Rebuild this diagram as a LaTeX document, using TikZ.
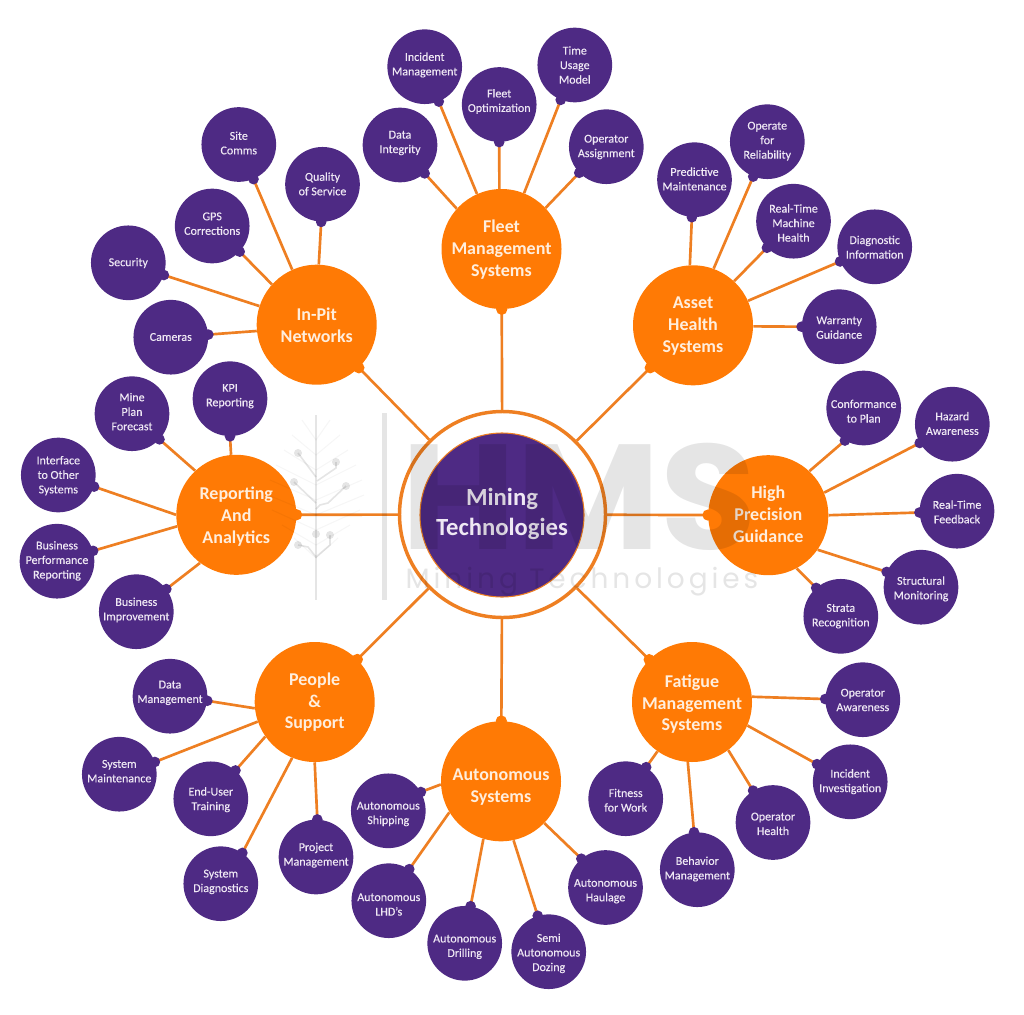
\documentclass[tikz,border=0pt]{standalone}
\usepackage{fontspec}
\setmainfont{Carlito}
\newfontfamily\leaffont[FakeBold=0.25]{Carlito}
\newfontfamily\markfont{Poppins}
\newfontfamily\markwide[LetterSpace=14]{Poppins}
\usetikzlibrary{positioning, calc}
\definecolor{minepurple}{HTML}{4E2A84}
\definecolor{mineorange}{HTML}{FF7A05}
\definecolor{minelink}{HTML}{EE7F22}
\definecolor{leafink}{HTML}{EFE8F4}
\definecolor{topicink}{HTML}{FFEEDD}
\tikzset{
  hubbox/.style={circle, fill=minepurple, draw=minelink, line width=0.8pt, inner sep=0pt,
    minimum size=123pt},
  hubtext/.style={align=center, inner sep=0pt, text=leafink,
    font=\fontsize{18.5}{22}\selectfont\bfseries},
  ringbox/.style={circle, draw=minelink, line width=2.6pt, inner sep=0pt, minimum size=154.5pt},
  topicbox/.style={circle, fill=mineorange, inner sep=0pt, minimum size=90pt},
  topictext/.style={align=center, inner sep=0pt, yshift=-0.9pt, text=topicink,
    font=\fontsize{13.5}{16.4}\selectfont\bfseries},
  leafbox/.style={circle, fill=minepurple, inner sep=0pt, minimum size=56pt},
  leaftext/.style={align=center, inner sep=0pt, yshift=-0.5pt, text=leafink,
    font=\leaffont\fontsize{9}{10.9}\selectfont},
  link/.style={draw=minelink, line width=2pt},
  leafdot/.style={circle, fill=minepurple, inner sep=0pt, minimum size=8pt},
  topicdot/.style={circle, fill=mineorange, inner sep=0pt, minimum size=8.5pt},
}
\newcommand{\topicnode}[5]{%
  \node[topicbox] (#1) at (#2,#3) {};
  \node[topictext] (#1text) at (#2,#4) {#5};
  \draw[link] (ring) -- (#1) node[topicdot, pos=1] (#1dot) {};}
\newcommand{\leafnode}[5]{%
  \node[leafbox] (#1) at (#2,#3) {};
  \node[leaftext] (#1text) at (#2,#4) {#5};}
\newcommand{\leaflink}[4]{%
  \draw[link] (#1.#2) -- (#3.#4) node[leafdot, pos=1] (#3dot) {};}

\begin{document}
\begin{tikzpicture}[x=0.75pt, y=-0.75pt]
  \useasboundingbox (0,0) rectangle (1024,1014);
  \node[ringbox] (ring) at (502.5,514.5) {};
  \node[hubbox] (hub) at (502,515) {};
  \node[hubtext] (hubtext) at (502,514) {Mining\\Technologies};

  \topicnode{fleet}{501.5}{249}{248.3}{Fleet\\Management\\Systems}
  \topicnode{asset}{693}{325.3}{325}{Asset\\Health\\Systems}
  \topicnode{guidance}{768.3}{515.2}{513}{High\\Precision\\Guidance}
  \topicnode{fatigue}{692}{702}{703}{Fatigue\\Management\\Systems}
  \topicnode{auto}{501}{781.3}{785.8}{Autonomous\\Systems}
  \topicnode{people}{314.7}{702}{701}{People\\\&\\Support}
  \topicnode{report}{236.3}{514.8}{515.5}{Reporting\\And\\Analytics}
  \topicnode{inpit}{316.7}{324.7}{324.2}{In-Pit\\Networks}

  \leafnode{integrity}{400}{145}{142.3}{Data\\Integrity}
  \leafnode{incident}{424.7}{66.7}{64.3}{Incident\\Management}
  \leafnode{optim}{499.2}{104.5}{100.8}{Fleet\\Optimization}
  \leafnode{usage}{574.8}{65}{64.3}{Time\\Usage\\Model}
  \leafnode{assign}{606.3}{146.7}{146.3}{Operator\\Assignment}
  \leaflink{fleet}{138}{integrity}{311}
  \leaflink{fleet}{114}{incident}{292}
  \leaflink{fleet}{92}{optim}{270}
  \leaflink{fleet}{68}{usage}{248}
  \leaflink{fleet}{43}{assign}{224}

  \leafnode{predict}{694.5}{179.7}{178.3}{Predictive\\Maintenance}
  \leafnode{reliab}{767.3}{141.7}{140.5}{Operate\\for\\Reliability}
  \leafnode{machine}{793.5}{221.2}{222.3}{Real-Time\\Machine\\Health}
  \leafnode{diagnos}{874.7}{246.8}{246.5}{Diagnostic\\Information}
  \leafnode{warranty}{839.2}{326.7}{327}{Warranty\\Guidance}
  \leaflink{asset}{93}{predict}{266}
  \leaflink{asset}{70}{reliab}{248}
  \leaflink{asset}{47}{machine}{225}
  \leaflink{asset}{24}{diagnos}{203}
  \leaflink{asset}{359}{warranty}{180}

  \leafnode{conform}{863.7}{408}{410.5}{Conformance\\to Plan}
  \leafnode{hazard}{952.3}{424.2}{422.8}{Hazard\\Awareness}
  \leafnode{feedback}{957}{511.2}{511.2}{Real-Time\\Feedback}
  \leafnode{struct}{921}{587.2}{588.2}{Structural\\Monitoring}
  \leafnode{strata}{840.8}{616.3}{615.5}{Strata\\Recognition}
  \leaflink{guidance}{47}{conform}{240}
  \leaflink{guidance}{22}{hazard}{210}
  \leaflink{guidance}{0}{feedback}{182}
  \leaflink{guidance}{325}{struct}{156}
  \leaflink{guidance}{298}{strata}{131}

  \leafnode{aware}{862.8}{699.7}{699.3}{Operator\\Awareness}
  \leafnode{investig}{850.2}{781.8}{781}{Incident\\Investigation}
  \leafnode{health}{773}{822.5}{823.2}{Operator\\Health}
  \leafnode{behave}{697.3}{869.7}{868.3}{Behavior\\Management}
  \leafnode{fitness}{625.7}{798.7}{799.5}{Fitness\\for Work}
  \leaflink{fatigue}{5}{aware}{179}
  \leaflink{fatigue}{337}{investig}{152}
  \leaflink{fatigue}{307}{health}{122}
  \leaflink{fatigue}{266}{behave}{95}
  \leaflink{fatigue}{235}{fitness}{57}

  \leafnode{shipping}{388.3}{810.8}{813.3}{Autonomous\\Shipping}
  \leafnode{lhd}{388.8}{900.7}{903.8}{Autonomous\\LHD’s}
  \leafnode{drilling}{464.7}{943.3}{946.2}{Autonomous\\Drilling}
  \leafnode{dozing}{548.7}{951.7}{952.7}{Semi\\Autonomous\\Dozing}
  \leafnode{haulage}{605.5}{887.5}{890.5}{Autonomous\\Haulage}
  \leaflink{auto}{183}{shipping}{30}
  \leaflink{auto}{211}{lhd}{57}
  \leaflink{auto}{253}{drilling}{81}
  \leaflink{auto}{282}{dozing}{107}
  \leaflink{auto}{316}{haulage}{130}

  \leafnode{datamgmt}{170}{696.2}{692.2}{Data\\Management}
  \leafnode{sysmaint}{119.3}{774.2}{770.5}{System\\Maintenance}
  \leafnode{training}{210.8}{798.8}{799}{End-User\\Training}
  \leafnode{sysdiag}{220.8}{883.7}{881.2}{System\\Diagnostics}
  \leafnode{project}{316}{857}{854.5}{Project\\Management}
  \leaflink{people}{186}{datamgmt}{353}
  \leaflink{people}{199}{sysmaint}{19}
  \leaflink{people}{215}{training}{49}
  \leaflink{people}{248}{sysdiag}{55}
  \leaflink{people}{270}{project}{88}

  \leafnode{kpi}{230}{398.7}{395.5}{KPI\\Reporting}
  \leafnode{forecast}{132}{413.7}{411}{Mine\\Plan\\Forecast}
  \leafnode{interface}{58.3}{475}{475}{Interface\\to Other\\Systems}
  \leafnode{perform}{57}{561.2}{560.2}{Business\\Performance\\Reporting}
  \leafnode{improve}{136.3}{611.7}{609.3}{Business\\Improvement}
  \leaflink{report}{95}{kpi}{270}
  \leaflink{report}{133}{forecast}{317}
  \leaflink{report}{180}{interface}{342}
  \leaflink{report}{191}{perform}{16}
  \leaflink{report}{233}{improve}{37}

  \leafnode{comms}{238.8}{144.5}{142.3}{Site\\Comms}
  \leafnode{quality}{322.5}{184.3}{183.2}{Quality\\of Service}
  \leafnode{gps}{212.2}{226}{223}{GPS\\Corrections}
  \leafnode{security}{128.3}{262.8}{262.3}{Security}
  \leafnode{cameras}{170.8}{337.2}{336.3}{Cameras}
  \leaflink{inpit}{114}{comms}{293}
  \leaflink{inpit}{88}{quality}{268}
  \leaflink{inpit}{138}{gps}{317}
  \leaflink{inpit}{162}{security}{341}
  \leaflink{inpit}{186}{cameras}{4}

  % faint brand mark laid over the wheel
  \begin{scope}[opacity=0.1]
    \node[font=\markfont\bfseries\fontsize{112}{112}\selectfont] (brand) at (579,497) {\scalebox{1.05}[1]{HMS}};
    \node[font=\markwide\fontsize{21}{21}\selectfont] (brandsub) at (582,582) {Mining Technologies};
    \draw[line width=3.6pt] (384.5,413) -- (384.5,600);
    \draw[line width=1.4pt] (316,415) -- (316,600);
    \draw[line width=1.2pt] (298,453) -- (316,477) (336,462) -- (336,468) -- (317,481)
      (294,482) -- (316,503) (346,486) -- (328,503) -- (320,505) -- (316,509)
      (298,545) -- (308,547) -- (316,557) -- (330,545) -- (330,535);
    \foreach \dx/\dy in {298/453, 336/462, 294/482, 346/486, 316/534, 330/535, 298/545}
      \fill (\dx,\dy) circle (4);
  \end{scope}
  \begin{scope}[opacity=0.035]
    \foreach \ly/\lw in {440/14, 455/24, 470/32, 485/40, 500/46, 515/48, 530/44, 545/34, 558/22}
      \draw[line width=0.8pt] (316-\lw,\ly-20) -- (316,\ly) -- (316+\lw,\ly-20);
  \end{scope}
\end{tikzpicture}
\end{document}
